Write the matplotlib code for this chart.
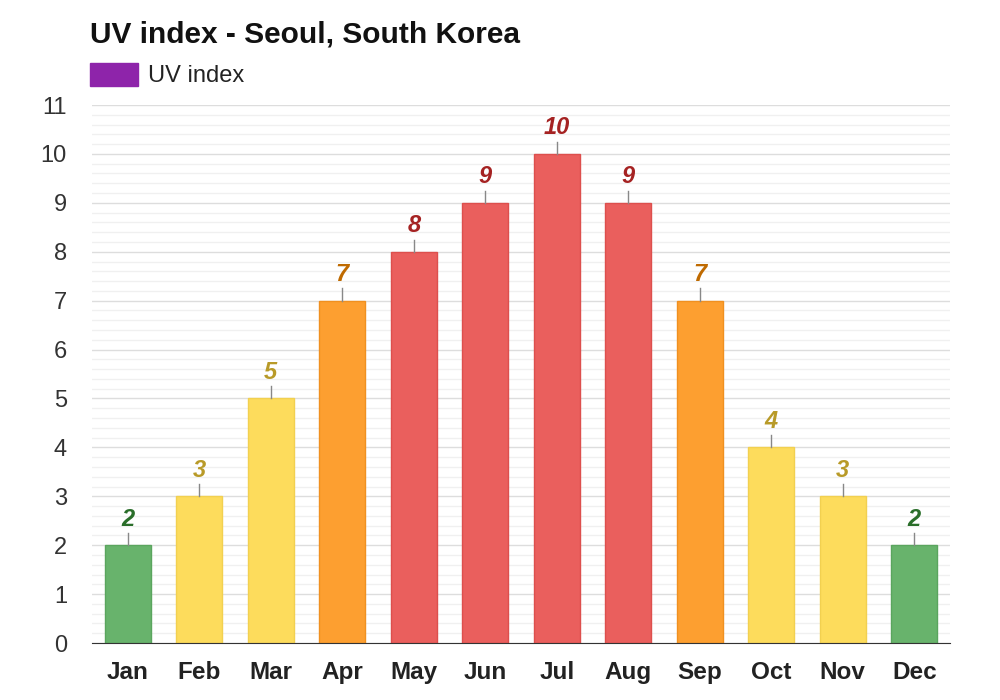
import numpy as np
import matplotlib.pyplot as plt
from matplotlib.patches import Rectangle

months = ["Jan", "Feb", "Mar", "Apr", "May", "Jun",
          "Jul", "Aug", "Sep", "Oct", "Nov", "Dec"]
uv = [2, 3, 5, 7, 8, 9, 10, 9, 7, 4, 3, 2]


def level_colors(v):
    # (bar fill, bar edge, label colour)
    if v <= 2:
        return "#68b36c", "#5aa55e", "#2a6e2a"
    if v <= 5:
        return "#fddc5c", "#f2d050", "#b89a28"
    if v <= 7:
        return "#fd9f30", "#f09020", "#bf6a00"
    return "#ea5f5d", "#dd4f4d", "#a52222"


plt.rcParams["font.family"] = ["Liberation Sans", "DejaVu Sans"]

fig = plt.figure(figsize=(10, 7), dpi=100)
ax = fig.add_axes([0.092, 0.0814, 0.858, 0.7686])

x = np.arange(len(months))
for xi, v in zip(x, uv):
    fc, ec, lc = level_colors(v)
    ax.bar(xi, v, width=0.64, color=fc, edgecolor=ec, linewidth=1, zorder=3)
    ax.plot([xi, xi], [v, v + 0.25], color="#888888", lw=1, zorder=3)
    ax.text(xi, v + 0.3, str(v), ha="center", va="bottom", fontsize=17,
            fontweight="bold", fontstyle="italic", color=lc, zorder=4)

ax.set_xlim(-0.5, len(months) - 0.5)
ax.set_ylim(0, 11)
ax.set_yticks(range(0, 12))
ax.set_yticks(np.arange(0, 11.01, 0.2), minor=True)
ax.grid(axis="y", which="major", color="#dddddd", lw=1, zorder=0)
ax.grid(axis="y", which="minor", color="#f0f0f0", lw=1, zorder=0)
ax.set_xticks(x)
ax.set_xticklabels(months, fontsize=17.5, fontweight="bold", color="#222222")
ax.tick_params(axis="x", length=0, pad=13)
ax.tick_params(axis="y", which="both", length=0, pad=18, labelsize=17,
               labelcolor="#333333")
for s in ["top", "right", "left"]:
    ax.spines[s].set_visible(False)
ax.spines["bottom"].set_color("#333333")
ax.spines["bottom"].set_zorder(5)

fig.text(0.09, 0.951, "UV index - Seoul, South Korea", fontsize=21.5,
         fontweight="bold", color="#111111", va="center")
fig.patches.append(Rectangle((0.09, 0.877), 0.048, 0.033,
                             transform=fig.transFigure, color="#8e24aa"))
fig.text(0.148, 0.892, "UV index", fontsize=17, color="#222222", va="center")

fig.savefig("out.png", dpi=100)
